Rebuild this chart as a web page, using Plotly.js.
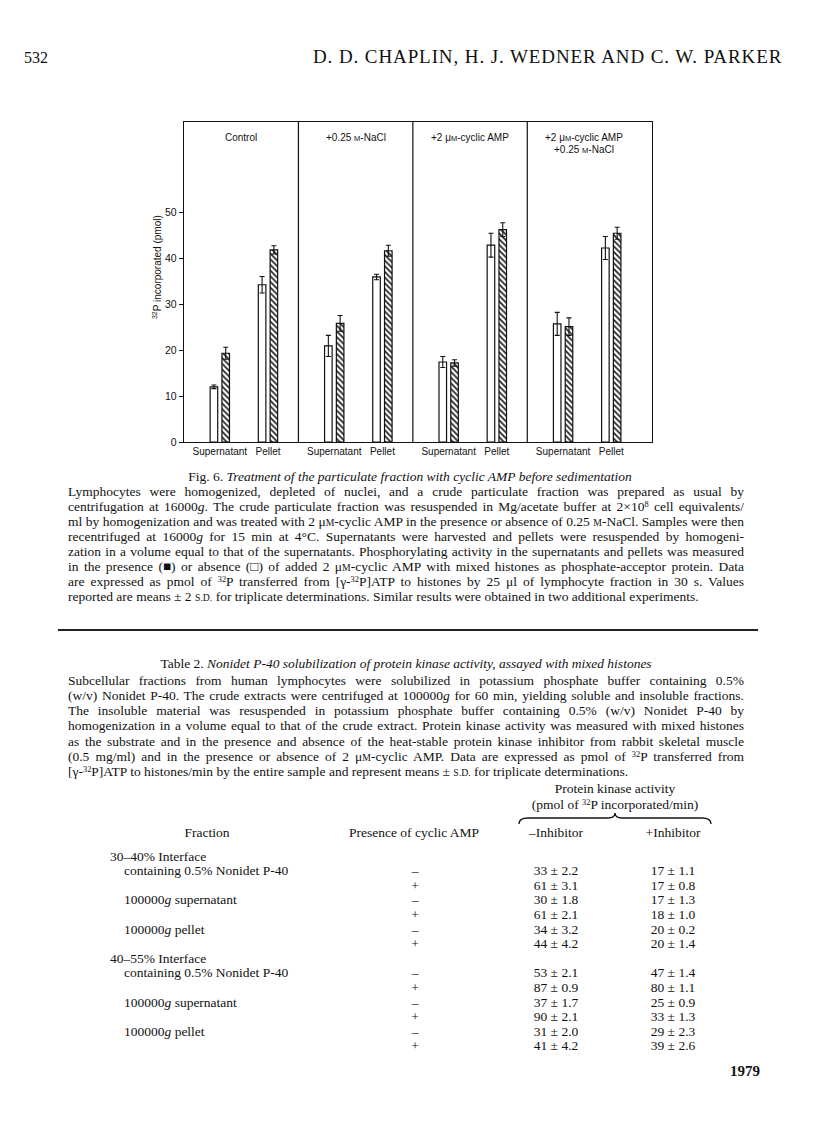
<!DOCTYPE html>
<html>
<head>
<meta charset="utf-8">
<script src="https://cdn.plot.ly/plotly-3.0.1.min.js"></script>
<style>
  body { margin: 0; background: #fff; }
  #page { position: relative; width: 816px; height: 1136px; overflow: hidden;
          font-family: "Liberation Serif", "Times New Roman", serif; color: #111; }
  #fig6 { position: absolute; left: 0; top: 0; width: 816px; height: 470px; }
  .t { position: absolute; white-space: nowrap; font-size: 13.5px; line-height: 15px; }
  .c { transform: translateX(-50%); }
  .line { position: absolute; left: 68px; width: 676px; white-space: nowrap; font-size: 13.5px; line-height: 15px; }
  .line > span { display: inline-block; transform-origin: 0 50%; }
  .sc { font-size: 0.72em; }
  sup { font-size: 0.62em; vertical-align: 0.5em; line-height: 0; }
  .rule { position: absolute; left: 58px; width: 700px; top: 629px; height: 2px; background: #222; }
</style>
</head>
<body>
<div id="page">
  <div id="fig6"></div>
</div>
<script>
// Fig. 6 data: pmol 32P, order = panel by panel, supernatant then pellet
const panels = ['Control', '+0.25 M-NaCl', '+2 \u03bcM-cyclic AMP', '+2 \u03bcM-cyclic AMP|+0.25 M-NaCl'];
const fractions = ['Supernatant', 'Pellet'];
const noCamp = [12.0, 34.2, 20.9, 35.9, 17.4, 42.8, 25.7, 42.2];
const noCampErr = [0.4, 1.8, 2.3, 0.6, 1.2, 2.6, 2.5, 2.5];
const withCamp = [19.3, 41.8, 25.8, 41.6, 17.2, 46.2, 25.1, 45.4];
const withCampErr = [1.3, 0.9, 1.7, 1.2, 0.7, 1.5, 1.9, 1.3];
const yTicks = [0, 10, 20, 30, 40, 50];

// Table 2 data
const rowLabels = ['30\u201340% Interface', 'containing 0.5% Nonidet P-40', '', '100000<i>g</i> supernatant', '',
  '100000<i>g</i> pellet', '', '40\u201355% Interface', 'containing 0.5% Nonidet P-40', '',
  '100000<i>g</i> supernatant', '', '100000<i>g</i> pellet', ''];
const cyclicAmp = ['', '\u2013', '+', '\u2013', '+', '\u2013', '+', '', '\u2013', '+', '\u2013', '+', '\u2013', '+'];
const minusInhibitor = ['', '33 \u00b1 2.2', '61 \u00b1 3.1', '30 \u00b1 1.8', '61 \u00b1 2.1', '34 \u00b1 3.2', '44 \u00b1 4.2',
  '', '53 \u00b1 2.1', '87 \u00b1 0.9', '37 \u00b1 1.7', '90 \u00b1 2.1', '31 \u00b1 2.0', '41 \u00b1 4.2'];
const plusInhibitor = ['', '17 \u00b1 1.1', '17 \u00b1 0.8', '17 \u00b1 1.3', '18 \u00b1 1.0', '20 \u00b1 0.2', '20 \u00b1 1.4',
  '', '47 \u00b1 1.4', '80 \u00b1 1.1', '25 \u00b1 0.9', '33 \u00b1 1.3', '29 \u00b1 2.3', '39 \u00b1 2.6'];

const captionLines = [
  'Lymphocytes were homogenized, depleted of nuclei, and a crude particulate fraction was prepared as usual by',
  'centrifugation at 16000<i>g</i>. The crude particulate fraction was resuspended in Mg/acetate buffer at 2\u00d710<sup>8</sup> cell equivalents/',
  'ml by homogenization and was treated with 2 \u03bc<span class="sc">M</span>-cyclic AMP in the presence or absence of 0.25 <span class="sc">M</span>-NaCl. Samples were then',
  'recentrifuged at 16000<i>g</i> for 15 min at 4\u00b0C. Supernatants were harvested and pellets were resuspended by homogeni-',
  'zation in a volume equal to that of the supernatants. Phosphorylating activity in the supernatants and pellets was measured',
  'in the presence (\u25a0) or absence (\u25a1) of added 2 \u03bc<span class="sc">M</span>-cyclic AMP with mixed histones as phosphate-acceptor protein. Data',
  'are expressed as pmol of <sup>32</sup>P transferred from [\u03b3-<sup>32</sup>P]ATP to histones by 25 \u03bcl of lymphocyte fraction in 30 s. Values',
  'reported are means \u00b1 2 <span class="sc">S.D.</span> for triplicate determinations. Similar results were obtained in two additional experiments.',
];

const tableNoteLines = [
  'Subcellular fractions from human lymphocytes were solubilized in potassium phosphate buffer containing 0.5%',
  '(w/v) Nonidet P-40. The crude extracts were centrifuged at 100000<i>g</i> for 60 min, yielding soluble and insoluble fractions.',
  'The insoluble material was resuspended in potassium phosphate buffer containing 0.5% (w/v) Nonidet P-40 by',
  'homogenization in a volume equal to that of the crude extract. Protein kinase activity was measured with mixed histones',
  'as the substrate and in the presence and absence of the heat-stable protein kinase inhibitor from rabbit skeletal muscle',
  '(0.5 mg/ml) and in the presence or absence of 2 \u03bc<span class="sc">M</span>-cyclic AMP. Data are expressed as pmol of <sup>32</sup>P transferred from',
  '[\u03b3-<sup>32</sup>P]ATP to histones/min by the entire sample and represent means \u00b1 <span class="sc">S.D.</span> for triplicate determinations.',
];

// molar "M" is set in small capitals
function smallM(text) {
  return text.replace(/M-/g, '<span style="font-size:7.5px">M</span>-');
}

function drawFigure(target) {
  const groupOffset = [0.313, 0.734];
  const pairShift = 0.0515;
  const xs = [];
  panels.forEach((p, i) => fractions.forEach((f, j) => xs.push(i + groupOffset[j])));

  const common = {
    type: 'bar',
    width: 0.066,
    hoverinfo: 'skip',
  };
  const openBars = Object.assign({}, common, {
    x: xs.map((x) => x - pairShift),
    y: noCamp,
    marker: { color: 'white', line: { color: '#111', width: 1.2 } },
    error_y: { type: 'data', array: noCampErr, color: '#111', thickness: 1.1, width: 2.5 },
  });
  const hatchedBars = Object.assign({}, common, {
    x: xs.map((x) => x + pairShift),
    y: withCamp,
    marker: {
      color: 'white',
      line: { color: '#111', width: 1.2 },
      pattern: { shape: '\\', fgcolor: '#111', bgcolor: 'white', size: 4, solidity: 0.38 },
    },
    error_y: { type: 'data', array: withCampErr, color: '#111', thickness: 1.1, width: 2.5 },
  });

  // one annotation per title line
  const annotations = [];
  panels.forEach((p, i) => {
    p.split('|').forEach((part, k) => {
      annotations.push({
        text: smallM(part),
        xref: 'x', x: i + 0.5, yref: 'paper', y: 0.952, yshift: -12 * k,
        xanchor: 'center', yanchor: 'middle', showarrow: false,
        font: { size: 10, color: '#111' },
      });
    });
  });
  annotations.push({
    text: '<sup>32</sup>P incorporated (pmol)',
    xref: 'paper', x: -0.059, yref: 'paper', y: 0.548,
    xanchor: 'center', yanchor: 'middle', textangle: -90, showarrow: false,
    font: { size: 10, color: '#111' },
  });

  const shapes = [1, 2, 3].map((x) => ({
    type: 'line', xref: 'x', x0: x, x1: x, yref: 'paper', y0: 0, y1: 1,
    line: { color: '#111', width: 1.2 },
  }));

  const layout = {
    width: 816,
    height: 470,
    margin: { l: 184, r: 164, t: 122, b: 28 },
    paper_bgcolor: 'rgba(0,0,0,0)',
    plot_bgcolor: 'white',
    showlegend: false,
    barmode: 'overlay',
    font: { family: 'Liberation Sans, Arial, sans-serif', size: 10, color: '#111' },
    xaxis: {
      range: [0, 4.09],
      tickvals: xs,
      ticktext: panels.flatMap(() => fractions),
      ticks: '',
      showgrid: false, zeroline: false,
      showline: true, mirror: true, linecolor: '#111', linewidth: 1.2,
      tickfont: { size: 10 },
    },
    yaxis: {
      range: [0, 69.6],
      tickvals: yTicks,
      ticks: 'outside', ticklen: 4, tickcolor: '#111', tickwidth: 1,
      showgrid: false, zeroline: false,
      showline: true, mirror: true, linecolor: '#111', linewidth: 1.2,
      tickfont: { size: 10.5 },
    },
    shapes,
    annotations,
  };

  Plotly.newPlot(target, [openBars, hatchedBars], layout, { staticPlot: true, displayModeBar: false });
}

function addText(page, html, left, top, opts = {}) {
  const el = document.createElement('div');
  el.className = 't' + (opts.center ? ' c' : '');
  el.style.left = `${left}px`;
  el.style.top = `${top}px`;
  if (opts.size) el.style.fontSize = `${opts.size}px`;
  if (opts.bold) el.style.fontWeight = 'bold';
  if (opts.spacing) el.style.letterSpacing = `${opts.spacing}px`;
  el.innerHTML = html;
  page.appendChild(el);
  return el;
}

function fitLine(el, justify) {
  const span = el.firstChild;
  const target = el.clientWidth;
  const natural = span.getBoundingClientRect().width;
  if (natural > target) {
    span.style.transform = `scaleX(${target / natural})`;
  } else if (justify) {
    const spaces = (span.textContent.match(/ /g) || []).length;
    if (spaces) span.style.wordSpacing = `${(target - natural) / spaces}px`;
  }
}

function placeLines(page, lines, firstTop, step) {
  lines.forEach((html, i) => {
    const el = document.createElement('div');
    el.className = 'line';
    el.style.top = `${firstTop + i * step}px`;
    el.innerHTML = `<span>${html}</span>`;
    page.appendChild(el);
    fitLine(el, i < lines.length - 1);
  });
}

function drawPage(page) {
  addText(page, '532', 24, 50, { size: 16 });
  addText(page, 'D. D. CHAPLIN, H. J. WEDNER AND C. W. PARKER', 313, 49, { size: 19, spacing: 0.9 });

  addText(page, 'Fig. 6. <i>Treatment of the particulate fraction with cyclic AMP before sedimentation</i>', 410, 468.5, { center: true });
  placeLines(page, captionLines, 483.6, 15.1);

  const rule = document.createElement('div');
  rule.className = 'rule';
  page.appendChild(rule);

  addText(page, 'Table 2. <i>Nonidet P-40 solubilization of protein kinase activity, assayed with mixed histones</i>', 406, 656, { center: true });
  placeLines(page, tableNoteLines, 672.5, 15.3);

  addText(page, 'Protein kinase activity', 615, 781, { center: true });
  addText(page, '(pmol of <sup>32</sup>P incorporated/min)', 615, 796.5, { center: true });
  const brace = document.createElementNS('http://www.w3.org/2000/svg', 'svg');
  brace.setAttribute('width', '200');
  brace.setAttribute('height', '14');
  brace.style.cssText = 'position:absolute;left:516px;top:812px;';
  brace.innerHTML = '<path d="M3,12 Q3,6 12,6 L92,6 Q99,6 99,1 Q99,6 106,6 L186,6 Q195,6 195,12" fill="none" stroke="#141414" stroke-width="1.4"/>';
  page.appendChild(brace);

  addText(page, 'Fraction', 207, 824.5, { center: true });
  addText(page, 'Presence of cyclic AMP', 414, 824.5, { center: true });
  addText(page, '\u2013Inhibitor', 556, 824.5, { center: true });
  addText(page, '+Inhibitor', 673, 824.5, { center: true });

  rowLabels.forEach((label, i) => {
    const top = 848.5 + i * 14.6;
    const header = label.indexOf('Interface') >= 0;
    if (label) addText(page, label, header ? 110 : 124, top);
    if (cyclicAmp[i]) addText(page, cyclicAmp[i], 415, top, { center: true });
    if (minusInhibitor[i]) addText(page, minusInhibitor[i], 556, top, { center: true });
    if (plusInhibitor[i]) addText(page, plusInhibitor[i], 673, top, { center: true });
  });

  addText(page, '1979', 730, 1064, { size: 15, bold: true });
}

window.addEventListener('DOMContentLoaded', () => {
  const page = document.getElementById('page');
  drawFigure(document.getElementById('fig6'));
  document.fonts.ready.then(() => drawPage(page));
});
</script>
</body>
</html>
